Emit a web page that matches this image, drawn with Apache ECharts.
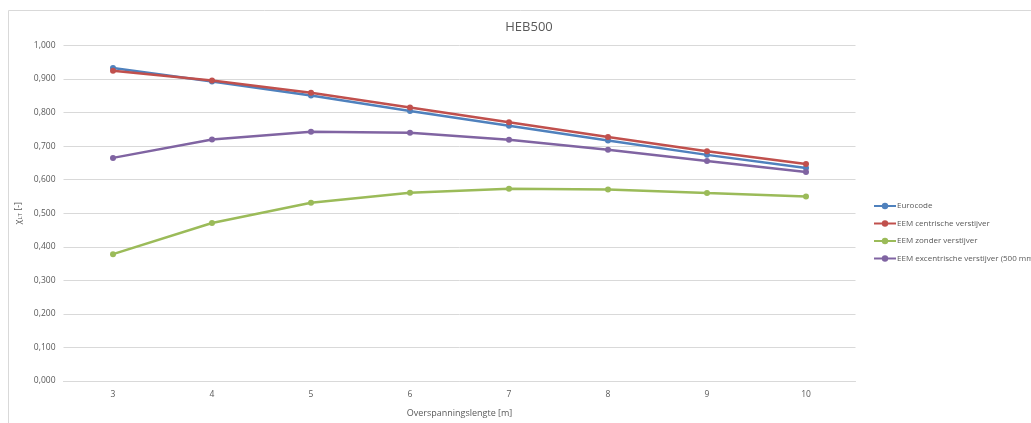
<!DOCTYPE html>
<html>
<head>
<meta charset="utf-8">
<script src="https://cdn.jsdelivr.net/npm/echarts@6/dist/echarts.min.js"></script>
<style>html,body{margin:0;padding:0;background:#fff;}#c{width:1031px;height:423px;}</style>
</head>
<body>
<div id="c"></div>
<script>
const categories = ['3','4','5','6','7','8','9','10'];
const eurocode = [0.933, 0.893, 0.851, 0.805, 0.761, 0.717, 0.674, 0.635];
const eemCentrisch = [0.925, 0.896, 0.859, 0.815, 0.771, 0.727, 0.685, 0.647];
const eemZonder = [0.378, 0.471, 0.531, 0.561, 0.573, 0.571, 0.560, 0.550];
const eemExcentrisch = [0.665, 0.720, 0.743, 0.740, 0.719, 0.689, 0.656, 0.623];
const seriesNames = ['Eurocode', 'EEM centrische verstijver', 'EEM zonder verstijver', 'EEM excentrische verstijver (500 mm)'];
const yTicks = [0, 0.1, 0.2, 0.3, 0.4, 0.5, 0.6, 0.7, 0.8, 0.9, 1.0];

const colors = ['#4F81BD', '#C0504D', '#9BBB59', '#8064A2'];
const font = 'Open Sans';
const chart = echarts.init(document.getElementById('c'));
const mk = (name, data, i) => ({
  name, type: 'line', data, color: colors[i],
  symbol: 'circle', symbolSize: 6,
  lineStyle: { width: 2.5, color: colors[i] },
  itemStyle: { color: colors[i] },
  z: 2 + (i === 3 ? 3 : i)
});
chart.setOption({
  animation: false,
  textStyle: { fontFamily: font },
  graphic: [{ type: 'rect', left: 6, top: 8, shape: { width: 1040, height: 430 }, style: { fill: 'none', stroke: '#d9d9d9', lineWidth: 1 }, silent: true }],
  title: { text: 'HEB500', left: 524, top: 16, textAlign: 'center', textStyle: { fontSize: 13, fontWeight: 'normal', color: '#595959', fontFamily: font } },
  legend: {
    orient: 'vertical', left: 868, top: 197, itemGap: 9.5, itemWidth: 22, itemHeight: 8,
    textStyle: { fontSize: 8, color: '#595959', fontFamily: font, padding: [0,0,0,-4] },
    data: seriesNames
  },
  grid: { left: 63.5, right: 1031 - 855.5, top: 45.5, bottom: 423 - 383.5, containLabel: false },
  xAxis: {
    type: 'category', data: categories, boundaryGap: true,
    axisLine: { show: true, lineStyle: { color: '#d9d9d9' } }, axisTick: { show: false },
    axisLabel: { fontSize: 8.5, color: '#595959', margin: 9, fontFamily: font },
    name: 'Overspanningslengte [m]', nameLocation: 'middle', nameGap: 28,
    nameTextStyle: { fontSize: 9, color: '#595959', fontFamily: font }
  },
  yAxis: {
    type: 'value', min: 0, max: 1, interval: 0.1,
    axisLine: { show: false }, axisTick: { show: false },
    splitLine: { lineStyle: { color: '#d9d9d9', width: 1 } },
    axisLabel: { fontSize: 8.5, color: '#595959', margin: 8, fontFamily: font, formatter: v => v.toFixed(3).replace('.', ',') },
    name: '{a|χ}{b|LT}{a| [-]}', nameLocation: 'middle', nameGap: 33, nameRotate: 90,
    nameTextStyle: { color: '#595959', fontFamily: font, rich: { a: { fontSize: 9, color: '#595959' }, b: { fontSize: 6, color: '#595959', verticalAlign: 'bottom', padding: [4,0,0,0] } } }
  },
  series: [
    mk(seriesNames[0], eurocode, 0),
    mk(seriesNames[1], eemCentrisch, 1),
    mk(seriesNames[2], eemZonder, 2),
    mk(seriesNames[3], eemExcentrisch, 3)
  ]
});
</script>
</body>
</html>
